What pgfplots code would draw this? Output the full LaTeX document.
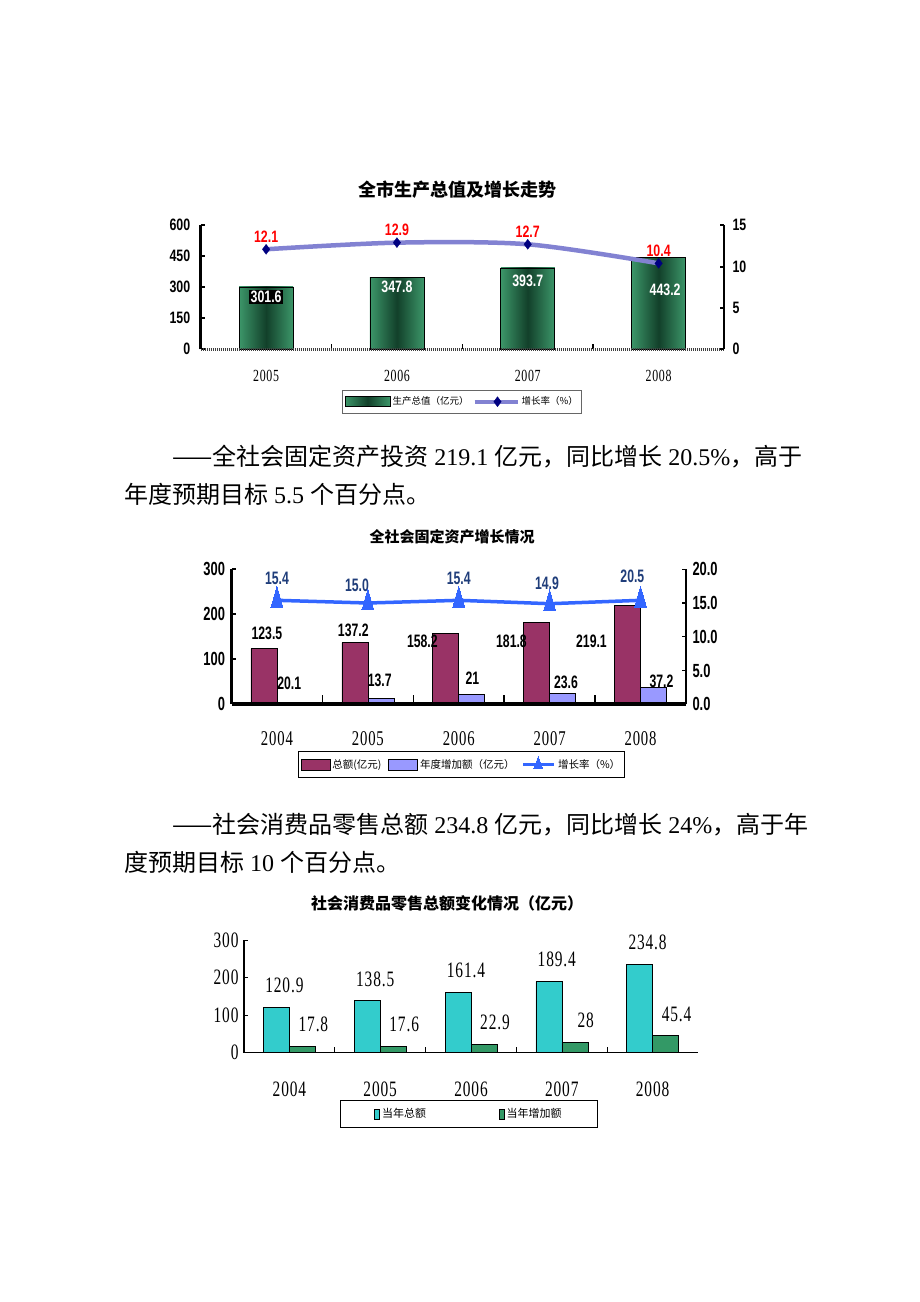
\documentclass[border=0pt]{standalone}
\usepackage{fontspec}
\usepackage{pgfplots}
\pgfplotsset{compat=1.18}
\setmainfont{Liberation Serif}
\newfontfamily\cjk{Noto Sans CJK SC}
\newfontfamily\nsans[FakeStretch=0.75]{Liberation Sans}
\newfontfamily\nsansB[FakeStretch=0.68]{Liberation Sans}
\newfontfamily\song[FakeStretch=0.7,LetterSpace=4]{Liberation Serif}
\newcommand\fs[1]{\fontsize{#1}{#1}\selectfont}
\definecolor{gedge}{RGB}{60,150,105}
\definecolor{gmid}{RGB}{18,64,42}
\definecolor{gline}{RGB}{130,130,210}
\definecolor{navyd}{RGB}{0,0,128}
\definecolor{cMaroon}{RGB}{153,51,102}
\definecolor{lblue}{RGB}{153,153,255}
\definecolor{gblue}{RGB}{51,102,255}
\definecolor{dblue}{RGB}{31,61,122}
\definecolor{cyanb}{RGB}{51,204,204}
\definecolor{greenb}{RGB}{51,153,102}
\pgfplotsset{/pgf/number format/assume math mode=true,
  gbar/.style={ybar, bar width=54pt, draw=black, line width=0.6pt, left color=gedge, right color=gedge, middle color=gmid}}
\begin{document}
\begin{tikzpicture}[x=1pt,y=1pt]
\fill[white] (0pt,0pt) rectangle (920pt,1302pt);
% ---- titles and body text
\node[font=\cjk\bfseries\fs{18}] at (457pt,1112pt) {全市生产总值及增长走势};
\node[anchor=west,inner sep=0,font=\fs{24}] at (172pt,845pt) {{\cjk ——全社会固定资产投资} 219.1 {\cjk 亿元，同比增长} 20.5\%{\cjk ，高于}};
\node[anchor=west,inner sep=0,font=\fs{24}] at (124pt,808pt) {{\cjk 年度预期目标} 5.5 {\cjk 个百分点。}};
\node[font=\cjk\bfseries\fs{15}] at (452pt,765pt) {全社会固定资产增长情况};
\node[anchor=west,inner sep=0,font=\fs{24}] at (172pt,477pt) {{\cjk ——社会消费品零售总额} 234.8 {\cjk 亿元，同比增长} 24\%{\cjk ，高于年}};
\node[anchor=west,inner sep=0,font=\fs{24}] at (124pt,440pt) {{\cjk 度预期目标} 10 {\cjk 个百分点。}};
\node[font=\cjk\bfseries\fs{16}] at (447pt,399pt) {社会消费品零售总额变化情况（亿元）};

% ================= Chart 1 =================
\begin{axis}[
 at={(200.7pt,952.7pt)}, anchor=south west, scale only axis,
 width=523.3pt, height=124pt,
 xmin=-0.5, xmax=3.5, ymin=0, ymax=600,
 axis x line*=bottom, axis y line*=left, axis on top,
 x axis line style={line width=3.5pt, black!75, dash pattern=on 1pt off 1pt},
 y axis line style={line width=2.5pt},
 ytick={0,150,300,450,600},
 xtick={0,1,2,3}, xticklabels={2005,2006,2007,2008},
 minor xtick={0.5,1.5,2.5},
 major x tick style={draw=none},
 minor x tick style={line width=1.5pt, black},
 minor tick length=5pt,
 major y tick style={line width=2pt, black},
 major tick length=4pt,
 yticklabel style={font=\nsans\bfseries\fs{16.5}, xshift=-7pt},
 xticklabel style={font=\song\fs{17}, yshift=-17pt},
 clip=false,
]
% one bar per plot so that each bar gets its own shading
\addplot[gbar] coordinates {(0,301.6)};
\addplot[gbar] coordinates {(1,347.8)};
\addplot[gbar] coordinates {(2,393.7)};
\addplot[gbar] coordinates {(3,443.2)};
\node[font=\nsans\bfseries\fs{16.5}, text=white, fill=black, inner sep=1.5pt] at (axis cs:0,253) {301.6};
\node[font=\nsans\bfseries\fs{16.5}, text=white, inner sep=0pt] at (axis cs:1,301.5) {347.8};
\node[font=\nsans\bfseries\fs{16.5}, text=white, inner sep=0pt] at (axis cs:2,330.5) {393.7};
\node[font=\nsans\bfseries\fs{16.5}, text=white, inner sep=0pt] at (axis cs:3.05,290) {443.2};
\end{axis}
\begin{axis}[
 at={(200.7pt,952.7pt)}, anchor=south west, scale only axis,
 width=523.3pt, height=124pt,
 xmin=-0.5, xmax=3.5, ymin=0, ymax=15,
 axis x line=none, axis y line*=right,
 y axis line style={line width=2.5pt},
 ytick={0,5,10,15}, xtick=\empty,
 major y tick style={line width=2pt, black}, major tick length=4pt,
 yticklabel style={font=\nsans\bfseries\fs{16.5}, xshift=5pt},
 clip=false,
 legend style={at={(0.2706,-0.328)}, anchor=north west, draw=black!60, line width=0.8pt, font=\cjk\fs{9.5}, inner xsep=2pt, inner ysep=4.5pt, /tikz/every even column/.append style={column sep=2pt}},
 legend columns=2, legend cell align=left,
]
\addlegendimage{legend image code/.code={\shade[left color=gedge,right color=gedge,middle color=gmid] (0pt,-5pt) rectangle (45pt,5pt); \draw[black,line width=0.5pt] (0pt,-5pt) rectangle (45pt,5pt);}}
\addlegendentry{生产总值（亿元）}
\addplot[smooth, gline, line width=4.5pt, mark=diamond*, mark size=5pt,
  mark options={solid, line width=0.3pt, draw=navyd, fill=navyd},
  point meta=explicit symbolic, nodes near coords,
  nodes near coords style={font=\nsans\bfseries\fs{16.5}, text=red, anchor=south, inner sep=0pt, yshift=7pt},
  legend image code/.code={\draw[gline, line width=4pt] (0pt,0pt) -- (43pt,0pt); \draw[navyd, fill=navyd, line width=0.3pt] plot[mark=diamond*, mark size=5pt] coordinates {(23pt,0pt)};}
 ] coordinates {(0,12.1)[12.1] (1,12.9)[12.9] (2,12.7)[12.7] (3,10.4)[10.4]};
\addlegendentry{增长率（\%）}
\end{axis}

% ================= Chart 2 =================
\begin{axis}[
 at={(231.5pt,597.8pt)}, anchor=south west, scale only axis,
 width=454.5pt, height=134.9pt,
 xmin=-0.5, xmax=4.5, ymin=0, ymax=300,
 axis x line*=bottom, axis y line*=left, axis on top,
 x axis line style={line width=4.5pt},
 y axis line style={line width=3pt},
 ytick={0,100,200,300},
 xtick={0,1,2,3,4}, xticklabels={2004,2005,2006,2007,2008},
 minor xtick={0.5,1.5,2.5,3.5},
 major x tick style={draw=none}, minor x tick style={line width=1.5pt,black}, minor tick length=9pt,
 major y tick style={line width=2pt,black}, major tick length=4pt,
 yticklabel style={font=\nsansB\bfseries\fs{19}, xshift=-3pt},
 xticklabel style={font=\song\fs{21}, yshift=-24pt},
 clip=false,
]
\addplot[ybar, bar width=26pt, bar shift=-13pt, fill=cMaroon, draw=black, line width=0.7pt] coordinates {(0,123.5)(1,137.2)(2,158.2)(3,181.8)(4,219.1)};
\addplot[ybar, bar width=26pt, bar shift=13pt, fill=lblue, draw=black, line width=0.7pt] coordinates {(1,13.7)(2,21)(3,23.6)(4,37.2)};
\begin{scope}[every node/.style={font=\nsansB\bfseries\fs{18}, inner sep=0pt}]
\node at (axis cs:-0.11,157.6) {123.5};
\node at (axis cs:0.84,165) {137.2};
\node at (axis cs:1.6,140) {158.2};
\node at (axis cs:2.58,140) {181.8};
\node at (axis cs:3.46,140) {219.1};
\node at (axis cs:0.135,46.4) {20.1};
\node at (axis cs:1.13,53.8) {13.7};
\node at (axis cs:2.15,58) {21};
\node at (axis cs:3.18,49) {23.6};
\node at (axis cs:4.23,50) {37.2};
\node[text=dblue] at (axis cs:0,279) {15.4};
\node[text=dblue] at (axis cs:0.88,265.5) {15.0};
\node[text=dblue] at (axis cs:2,279) {15.4};
\node[text=dblue] at (axis cs:2.97,268) {14.9};
\node[text=dblue] at (axis cs:3.91,283.5) {20.5};
\end{scope}
\end{axis}
\begin{axis}[
 at={(231.5pt,597.8pt)}, anchor=south west, scale only axis,
 width=454.5pt, height=134.9pt,
 xmin=-0.5, xmax=4.5, ymin=0, ymax=20,
 axis x line=none, axis y line*=right,
 y axis line style={line width=1.2pt},
 ytick={0,5,10,15,20}, xtick=\empty,
 major y tick style={line width=1.2pt,black}, major tick length=4pt,
 yticklabel style={/pgf/number format/fixed, /pgf/number format/fixed zerofill, /pgf/number format/precision=1, font=\nsansB\bfseries\fs{19}, xshift=3pt},
 clip=false,
 legend style={at={(0.147,-0.345)}, anchor=north west, draw=black, line width=0.8pt, font=\cjk\fs{10.5}, inner xsep=2pt, inner ysep=5.5pt, /tikz/every even column/.append style={column sep=5pt}},
 legend columns=3, legend cell align=left,
]
\addlegendimage{legend image code/.code={\draw[fill=cMaroon, draw=black, line width=0.6pt] (0pt,-5.5pt) rectangle (29pt,5.5pt);}}
\addlegendentry{总额(亿元)}
\addlegendimage{legend image code/.code={\draw[fill=lblue, draw=black, line width=0.6pt] (0pt,-5.5pt) rectangle (29pt,5.5pt);}}
\addlegendentry{年度增加额（亿元）}
\addplot[gblue, line width=3.5pt, mark=triangle*, mark size=6.9pt,
  mark options={solid, line width=0pt, fill=gblue, draw=gblue, yscale=2},
  legend image code/.code={\draw[gblue, line width=3.5pt] (0pt,0pt) -- (31pt,0pt); \draw[gblue, fill=gblue, line width=0pt] plot[mark=triangle*, mark size=5pt, mark options={yscale=1.6}] coordinates {(15pt,0pt)};}
 ] coordinates {(0,15.4)(1,15.0)(2,15.4)(3,14.9)(4,15.4)};
\addlegendentry{增长率（\%）}
\end{axis}

% ================= Chart 3 =================
\begin{axis}[
 at={(244pt,249.3pt)}, anchor=south west, scale only axis,
 width=454pt, height=112.7pt,
 xmin=-0.5, xmax=4.5, ymin=0, ymax=300,
 axis x line*=bottom, axis y line*=left, axis on top,
 axis line style={line width=1.3pt},
 ytick={0,100,200,300},
 xtick={0,1,2,3,4}, xticklabels={2004,2005,2006,2007,2008},
 minor xtick={0.5,1.5,2.5,3.5},
 major x tick style={draw=none}, minor x tick style={line width=1pt,black}, minor tick length=6pt,
 major y tick style={line width=1pt,black}, major tick length=4pt,
 yticklabel style={font=\song\fs{22}, xshift=-2pt},
 xticklabel style={font=\song\fs{22}, yshift=-26pt},
 clip=false,
 legend style={at={(0.2115,-0.42)}, anchor=north west, draw=black, line width=0.8pt, font=\cjk\fs{11}, inner xsep=34pt, inner ysep=6pt, /tikz/every even column/.append style={column sep=71pt}},
 legend columns=2, legend cell align=left,
]
\addplot[ybar, bar width=26pt, bar shift=-13pt, fill=cyanb, draw=black, line width=0.6pt,
  point meta=explicit symbolic, nodes near coords,
  nodes near coords style={font=\song\fs{22}, text=black, anchor=south, inner sep=0pt, yshift=14pt, xshift=-5pt},
  legend image code/.code={\draw[fill=cyanb, draw=black, line width=0.6pt] (0pt,-5pt) rectangle (5pt,5pt);}
 ] coordinates {(0,120.9)[120.9] (1,138.5)[138.5] (2,161.4)[161.4] (3,189.4)[189.4] (4,234.8)[234.8]};
\addlegendentry{当年总额}
\addplot[ybar, bar width=26pt, bar shift=13pt, fill=greenb, draw=black, line width=0.6pt,
  point meta=explicit symbolic, nodes near coords,
  nodes near coords style={font=\song\fs{22}, text=black, anchor=south, inner sep=0pt, yshift=14pt, xshift=24pt},
  legend image code/.code={\draw[fill=greenb, draw=black, line width=0.6pt] (0pt,-5pt) rectangle (5pt,5pt);}
 ] coordinates {(0,17.8)[17.8] (1,17.6)[17.6] (2,22.9)[22.9] (3,28)[28] (4,45.4)[45.4]};
\addlegendentry{当年增加额}
\end{axis}
\end{tikzpicture}
\end{document}
